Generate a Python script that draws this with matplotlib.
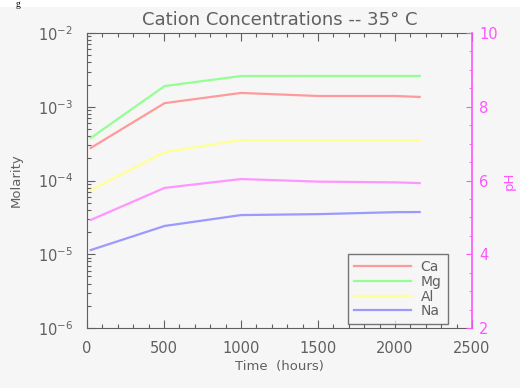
import matplotlib
matplotlib.use("Agg")
import matplotlib.pyplot as plt
from matplotlib.ticker import LogLocator, MultipleLocator, NullFormatter

# ---------- data ----------
hours = [24, 504, 1000, 1500, 2000, 2160]
ca = [2.76e-4, 1.12e-3, 1.54e-3, 1.40e-3, 1.40e-3, 1.36e-3]
mg = [3.77e-4, 1.91e-3, 2.61e-3, 2.62e-3, 2.62e-3, 2.62e-3]
al = [7.4e-5, 2.43e-4, 3.54e-4, 3.54e-4, 3.54e-4, 3.54e-4]
na = [1.14e-5, 2.42e-5, 3.40e-5, 3.50e-5, 3.72e-5, 3.74e-5]
ph = [4.93, 5.80, 6.04, 5.97, 5.95, 5.93]

labels = ['Ca', 'Mg', 'Al', 'Na']
colors = ['#ff9a9a', '#94ff94', '#ffff94', '#9a9aff']
ph_color = '#ff96ff'
axis_magenta = '#ff55ff'
grey = '#606060'
bg = '#f6f6f6'

plt.rcParams['mathtext.default'] = 'regular'
plt.rcParams['font.family'] = 'DejaVu Sans'

fig = plt.figure(figsize=(5.2, 3.88), dpi=100, facecolor=bg)
# white strip with caption fragment at the very top
fig.patches.append(plt.Rectangle((0, 0.982), 1, 0.018, transform=fig.transFigure,
                                 facecolor='white', edgecolor='none', zorder=0))
fig.text(0.03, 0.999, 'g', fontsize=7, family='Liberation Serif', color='black',
         va='top', ha='left')

ax = fig.add_axes([0.1673, 0.1546, 0.7404, 0.7603])
ax.set_facecolor(bg)
for vals, c, lab in zip([ca, mg, al, na], colors, labels):
    ax.plot(hours, vals, color=c, lw=1.6, label=lab)

ax.set_yscale('log')
ax.set_xlim(0, 2500)
ax.set_ylim(1e-6, 1e-2)
ax.xaxis.set_major_locator(MultipleLocator(500))
ax.xaxis.set_minor_locator(MultipleLocator(100))
ax.yaxis.set_major_locator(LogLocator(base=10, numticks=10))
ax.yaxis.set_minor_locator(LogLocator(base=10, subs=range(2, 10), numticks=10))
ax.yaxis.set_minor_formatter(NullFormatter())
ax.tick_params(which='both', direction='in', top=True, right=False, colors=grey,
               labelcolor=grey, labelsize=10.5)
ax.tick_params(which='major', length=6, width=0.8)
ax.tick_params(which='minor', length=3, width=0.8)
ax.tick_params(axis='x', pad=9)
ax.tick_params(axis='y', pad=10)
for s in ['left', 'bottom', 'top']:
    ax.spines[s].set_color(grey)
ax.spines['right'].set_visible(False)

ax.set_xlabel('Time  (hours)', color=grey, fontsize=9.5, labelpad=3)
ax.set_ylabel('Molarity', color=grey, fontsize=9.5, labelpad=11)
ax.set_title('Cation Concentrations -- 35° C', color=grey, fontsize=13, pad=6)

leg = ax.legend(loc='lower right', bbox_to_anchor=(0.937, 0.012), fontsize=10,
                frameon=True, fancybox=False, handlelength=4.1, handletextpad=0.7,
                labelspacing=0.05, borderpad=0.45, borderaxespad=0)
leg.get_frame().set_edgecolor('#555555')
leg.get_frame().set_facecolor(bg)
leg.get_frame().set_linewidth(1.0)
for t in leg.get_texts():
    t.set_color(grey)

ax2 = ax.twinx()
ax2.plot(hours, ph, color=ph_color, lw=1.6)
ax2.set_ylim(2, 10)
ax2.yaxis.set_major_locator(MultipleLocator(2))
ax2.yaxis.set_minor_locator(MultipleLocator(0.5))
ax2.tick_params(which='both', direction='in', colors=axis_magenta,
                labelcolor=axis_magenta, labelsize=10.5, pad=5)
ax2.tick_params(which='major', length=4)
ax2.tick_params(which='minor', length=2)
for s in ['left', 'bottom', 'top']:
    ax2.spines[s].set_visible(False)
ax2.spines['right'].set_color(axis_magenta)
ax2.spines['right'].set_linewidth(1.2)
ax2.set_ylabel('pH', color=axis_magenta, fontsize=9.5, labelpad=4)

fig.savefig('out.png', dpi=100, facecolor=bg)
